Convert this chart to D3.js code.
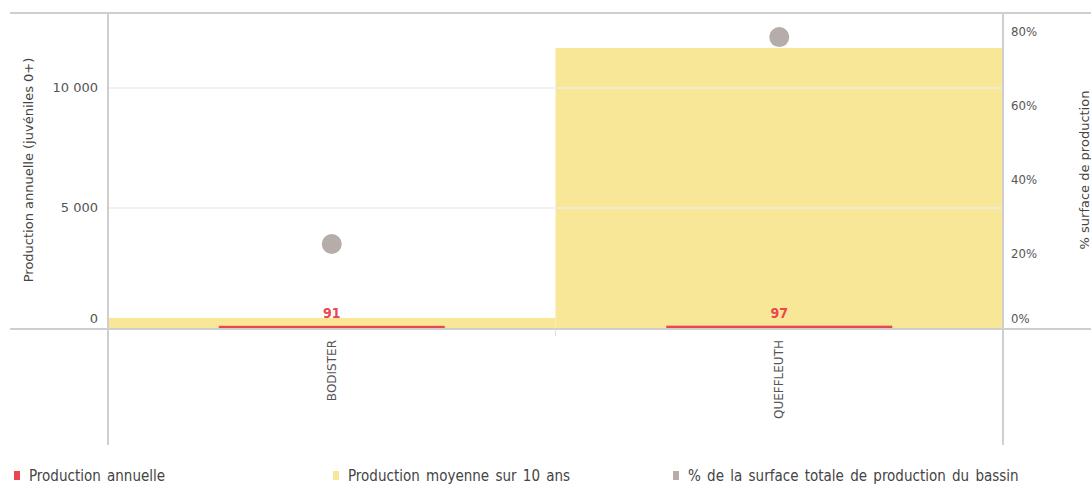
<!DOCTYPE html>
<html><head><meta charset="utf-8">
<script src="https://cdn.jsdelivr.net/npm/d3@7"></script>
<style>body{margin:0;background:#fff}svg{display:block}text{font-family:"DejaVu Sans Condensed","Liberation Sans Narrow",sans-serif}</style>
</head><body><svg id="c" width="1091" height="484"></svg>
<script>
const categories = ["BODISTER", "QUEFFLEUTH"];
const annualProduction = [91, 97];
const avgProduction10y = [420, 11670];
const surfacePct = [22.7, 78.6];
const leftTicks = [0, 5000, 10000];
const rightTicks = [0, 20, 40, 60, 80];
const legendLabels = ["Production annuelle", "Production moyenne sur 10 ans", "% de la surface totale de production du bassin"];
const colors = ["#e8474e", "#f8e796", "#b6acaa"];

const svg = d3.select("#c");
const L = 108, R = 1003, T = 13, Z = 328, B = 445;
const x = d3.scaleBand().domain(categories).range([L, R]).padding(0);
const yL = d3.scaleLinear().domain([0, 13125]).range([Z, T]);
const yR = d3.scaleLinear().domain([0, 85.1]).range([Z, T]);
const fmt = v => d3.format(",")(v).replace(/,/g, " ");

// average bars (full width)
svg.append("g").selectAll("rect").data(categories).join("rect")
  .attr("x", d => x(d)).attr("width", x.bandwidth())
  .attr("y", (d, i) => yL(avgProduction10y[i]))
  .attr("height", (d, i) => Z - yL(avgProduction10y[i]))
  .attr("fill", colors[1]);

// gridlines
svg.append("g").selectAll("line").data(leftTicks.filter(v => v > 0)).join("line")
  .attr("x1", L).attr("x2", R).attr("y1", d => yL(d)).attr("y2", d => yL(d))
  .attr("stroke", "#ececec").attr("stroke-width", 1.5);

// annual bars
const inner = 226;
svg.append("g").selectAll("rect").data(categories).join("rect")
  .attr("x", d => x(d) + x.bandwidth() / 2 - inner / 2).attr("width", inner)
  .attr("y", (d, i) => yL(annualProduction[i]))
  .attr("height", (d, i) => Math.max(2, Z - yL(annualProduction[i])))
  .attr("fill", colors[0]);
svg.append("g").selectAll("text").data(categories).join("text")
  .attr("x", d => x(d) + x.bandwidth() / 2).attr("y", (d, i) => yL(annualProduction[i]) - 8)
  .attr("text-anchor", "middle").attr("font-size", 14).attr("font-weight", "bold")
  .attr("fill", colors[0]).text((d, i) => annualProduction[i]);

// circles
svg.append("g").selectAll("circle").data(categories).join("circle")
  .attr("cx", d => x(d) + x.bandwidth() / 2).attr("cy", (d, i) => yR(surfacePct[i]))
  .attr("r", 10).attr("fill", colors[2]);

// frame lines
const g = svg.append("g").attr("stroke", "#cfcfcf").attr("stroke-width", 2);
g.append("line").attr("x1", 10).attr("x2", 1091).attr("y1", T).attr("y2", T);
g.append("line").attr("x1", 10).attr("x2", 1091).attr("y1", Z + 1).attr("y2", Z + 1);
g.append("line").attr("x1", L).attr("x2", L).attr("y1", T).attr("y2", B);
g.append("line").attr("x1", R).attr("x2", R).attr("y1", T).attr("y2", B);
svg.append("line").attr("x1", x(categories[1])).attr("x2", x(categories[1]))
  .attr("y1", Z + 1).attr("y2", Z + 8).attr("stroke", "#e0e0e0").attr("stroke-width", 1);

// left axis labels
svg.append("g").selectAll("text").data(leftTicks).join("text")
  .attr("x", 98).attr("y", d => yL(d) + (d === 0 ? -5 : 4))
  .attr("text-anchor", "end").attr("font-size", 13).style("font-family", "DejaVu Sans")
  .attr("fill", "#555").text(fmt);
// right axis labels
svg.append("g").selectAll("text").data(rightTicks).join("text")
  .attr("x", 1011).attr("y", d => yR(d) + (d === 0 ? -5 : 4))
  .attr("font-size", 13).attr("fill", "#555").text(d => d + "%");

// axis titles
svg.append("text").attr("transform", "translate(33,170) rotate(-90)")
  .attr("text-anchor", "middle").attr("font-size", 13).style("font-family", "DejaVu Sans")
  .attr("fill", "#444").text("Production annuelle (juvéniles 0+)");
svg.append("text").attr("transform", "translate(1089,170) rotate(-90)")
  .attr("text-anchor", "middle").attr("font-size", 13).style("font-family", "DejaVu Sans")
  .attr("fill", "#444").text("% surface de production");

// category labels
svg.append("g").selectAll("text").data(categories).join("text")
  .attr("transform", d => `translate(${x(d) + x.bandwidth() / 2 + 4},340) rotate(-90)`)
  .attr("text-anchor", "end").attr("font-size", 12).style("font-family", "DejaVu Sans")
  .attr("fill", "#555").text(d => d);

// legend
const lx = [14, 333, 673];
const lg = svg.append("g").selectAll("g").data(legendLabels).join("g")
  .attr("transform", (d, i) => `translate(${lx[i]},476)`);
lg.append("rect").attr("x", 0).attr("y", -5).attr("width", 6).attr("height", 9)
  .attr("fill", (d, i) => colors[i]);
lg.append("text").attr("x", 15).attr("y", 5).attr("font-size", 15).attr("word-spacing", 2)
  .attr("fill", "#444").text(d => d);
</script></body></html>
